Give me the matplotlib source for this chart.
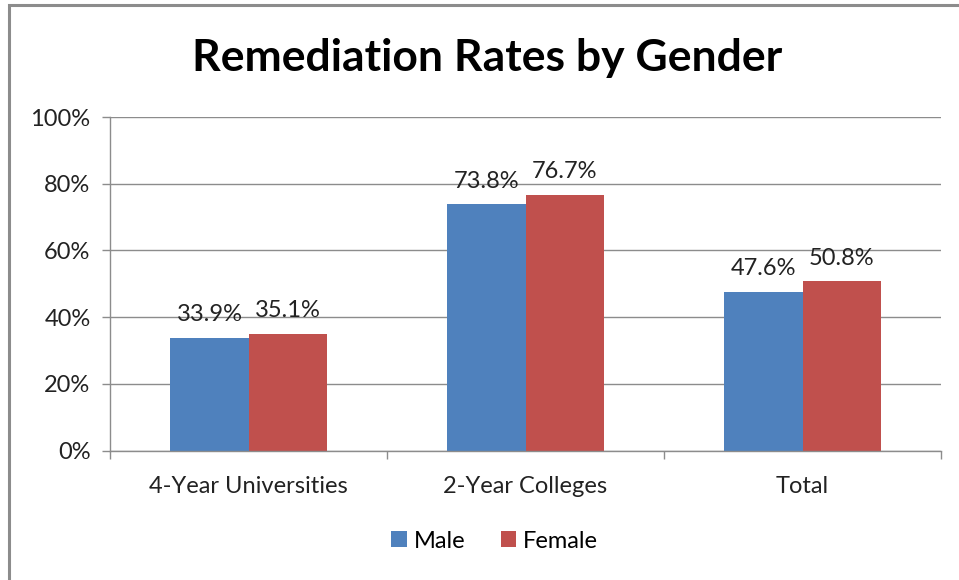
import matplotlib
matplotlib.use("Agg")
import matplotlib.pyplot as plt
from matplotlib.patches import Rectangle
from matplotlib.ticker import FixedLocator, FuncFormatter
import numpy as np

categories = ["4-Year Universities", "2-Year Colleges", "Total"]
male = [33.9, 73.8, 47.6]
female = [35.1, 76.7, 50.8]
series_names = ["Male", "Female"]
yticks = [0, 20, 40, 60, 80, 100]

plt.rcParams['font.family'] = ['Lato', 'DejaVu Sans']

fig = plt.figure(figsize=(9.59, 5.8), dpi=100)
ax = fig.add_axes([110/959, 1-450.7/580, (941-110)/959, (450.7-117)/580])

x = np.arange(len(categories))
w = 0.282
b1 = ax.bar(x - w/2, male, w, color="#4F81BD", label=series_names[0])
b2 = ax.bar(x + w/2, female, w, color="#C0504D", label=series_names[1])

FS = 17
for bars, vals in ((b1, male), (b2, female)):
    for r, v in zip(bars, vals):
        ax.annotate(f"{v:.1f}%", (r.get_x() + r.get_width()/2, v),
                    xytext=(0, 9), textcoords="offset points",
                    ha="center", va="bottom", fontsize=FS, color="#222222")

ax.set_xlim(-0.5, 2.5)
ax.set_ylim(0, 100)
ax.set_yticks(yticks)
ax.yaxis.set_major_formatter(FuncFormatter(lambda v, p: f"{v:.0f}%"))
ax.yaxis.grid(True, color="#8C8C8C", linewidth=1)
ax.set_axisbelow(True)

ax.set_xticks(x)
ax.set_xticklabels(categories)
ax.xaxis.set_minor_locator(FixedLocator([-0.5, 0.5, 1.5, 2.5]))
ax.tick_params(axis="x", which="major", length=0, pad=18, labelsize=FS, labelcolor="#222222")
ax.tick_params(axis="x", which="minor", length=6, width=1, color="#8C8C8C", direction="out")
ax.tick_params(axis="y", length=6, width=1, color="#8C8C8C", direction="out", pad=8,
               labelsize=FS, labelcolor="#222222")

for s in ("top", "right"):
    ax.spines[s].set_visible(False)
for s in ("left", "bottom"):
    ax.spines[s].set_color("#8C8C8C")
    ax.spines[s].set_linewidth(1)

fig.text(0.508, 1-58/580, "Remediation Rates by Gender", ha="center", va="center",
         fontsize=32, fontweight="bold", color="black")

leg = fig.legend(handles=[b1, b2], labels=series_names, loc="center", bbox_to_anchor=(0.516, 1-541/580),
                 ncol=2, frameon=False, fontsize=FS, handlelength=0.65, handleheight=0.65,
                 handletextpad=0.3, columnspacing=1.5)

fig.patches.append(Rectangle((9/959, -0.05), 1.2, 1-5/580+0.05, transform=fig.transFigure,
                             fill=False, edgecolor="#8C8C8C", linewidth=2.2))

fig.savefig("out.png", dpi=100)
